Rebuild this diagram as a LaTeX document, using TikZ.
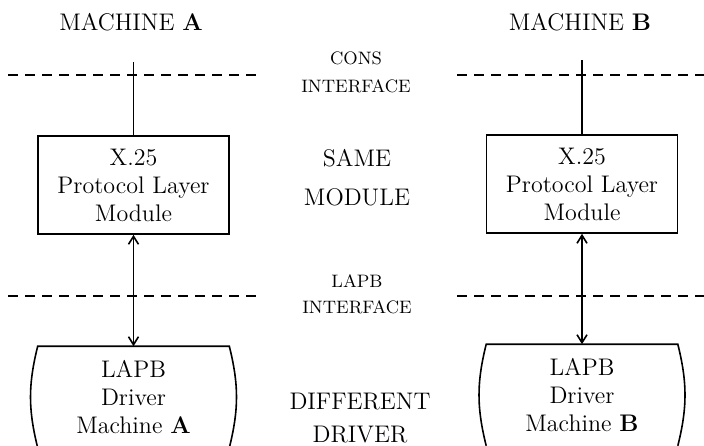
\documentclass[tikz,border=0pt]{standalone}
\usetikzlibrary{arrows.meta}
\begin{document}
\begin{tikzpicture}[x=0.5pt,y=-0.5pt,thick,>={Straight Barb[length=4pt,width=5pt]},
  box/.style={draw,shape=rectangle,minimum width=95.5pt,minimum height=49pt,align=center,font=\large},
  drum/.style={shape=rectangle,minimum width=95pt,minimum height=50pt,align=center,font=\large},
  iface/.style={align=center,font=\small},
  title/.style={align=center,font=\large},
  split/.style={dash pattern=on 5pt off 3.5pt}]
\clip (0,0) rectangle (704,445);
% headings
\draw (131,22) node[title] (macA) {MACHINE \textbf{A}};
\draw (580,22) node[title] (macB) {MACHINE \textbf{B}};
% modules and drivers
\draw (133.5,185) node[box] (modA) {X.25\\Protocol Layer\\Module};
\draw (582,184) node[box] (modB) {X.25\\Protocol Layer\\Module};
\draw (133.5,397) node[drum] (drvA) {LAPB\\Driver\\Machine \textbf{A}};
\draw (582,395) node[drum] (drvB) {LAPB\\Driver\\Machine \textbf{B}};
\draw (drvA.south west) to[bend left=14] (drvA.north west) -- (drvA.north east) to[bend left=14] (drvA.south east);
\draw (drvB.south west) to[bend left=14] (drvB.north west) -- (drvB.north east) to[bend left=14] (drvB.south east);
% middle labels
\draw (356,72) node[iface] (cons) {CONS\\[3pt]INTERFACE};
\draw (357,178) node[title] (same) {SAME\\[5.5pt]MODULE};
\draw (357,294) node[iface] (lapb) {LAPB\\[2pt]INTERFACE};
\draw (360,418) node[title] (diff) {DIFFERENT\\[2.5pt]DRIVER};
% interface lines
\coordinate (consL1) at (8,75);
\coordinate (consL2) at (258,75);
\coordinate (consR1) at (457,75);
\coordinate (consR2) at (704,75);
\coordinate (lapbL1) at (8,296);
\coordinate (lapbL2) at (258,296);
\coordinate (lapbR1) at (457,296);
\coordinate (lapbR2) at (704,296);
\draw[split] (consL1) -- (consL2);
\draw[split] (consR1) -- (consR2);
\draw[split] (lapbL1) -- (lapbL2);
\draw[split] (lapbR1) -- (lapbR2);
% connections
\coordinate (upA) at (133.5,62);
\coordinate (upB) at (582,60);
\draw (upA) -- (modA.north);
\draw (upB) -- (modB.north);
\draw[<->] (modA.south) -- (drvA.north);
\draw[<->] (modB.south) -- (drvB.north);
\end{tikzpicture}
\end{document}
